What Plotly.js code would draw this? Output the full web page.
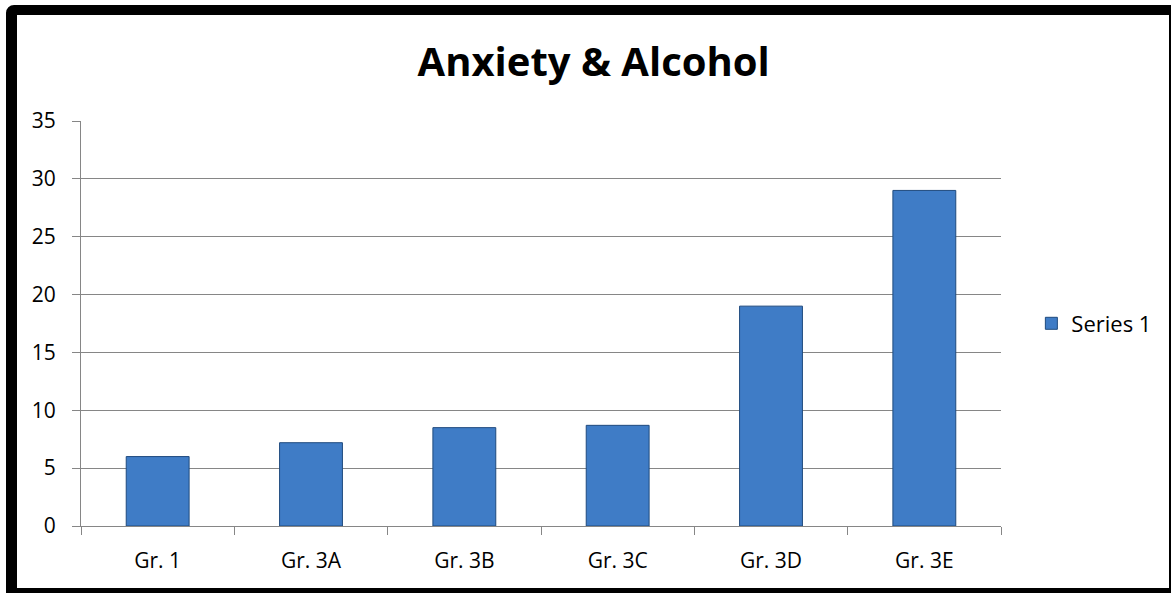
<!DOCTYPE html>
<html>
<head>
<meta charset="utf-8">
<script src="https://cdn.plot.ly/plotly-3.0.1.min.js"></script>
<style>
  html, body { margin: 0; padding: 0; background: #ffffff; }
  #wrap { position: relative; width: 1171px; height: 593px; overflow: hidden; }
  #chart { position: absolute; left: 0; top: 0; width: 1171px; height: 593px; }
  #frame {
    position: absolute; left: 6px; top: 5px; width: 1165px; height: 588px;
    box-sizing: border-box; pointer-events: none;
    border-left: 11px solid #000; border-top: 10px solid #000;
    border-right: 2px solid #000; border-bottom: 5px solid #000;
    border-top-left-radius: 8px;
  }
</style>
</head>
<body>
<div id="wrap">
  <div id="chart"></div>
  <div id="frame"></div>
</div>
<script>
const chartTitle = "Anxiety & Alcohol";
const categories = ["Gr. 1", "Gr. 3A", "Gr. 3B", "Gr. 3C", "Gr. 3D", "Gr. 3E"];
const seriesName = "Series 1";
const seriesValues = [6, 7.2, 8.5, 8.7, 19, 29];
const yTicks = [0, 5, 10, 15, 20, 25, 30, 35];

const font = "Open Sans, Liberation Sans, sans-serif";

const trace = {
  type: "bar",
  name: seriesName,
  x: categories,
  y: seriesValues,
  marker: { color: "#3f7cc6", line: { color: "#1f4a7e", width: 1 } },
  showlegend: true,
  hoverinfo: "x+y"
};

const layout = {
  width: 1171, height: 593,
  margin: { l: 81, r: 170, t: 121, b: 67 },
  paper_bgcolor: "#ffffff", plot_bgcolor: "#ffffff",
  font: { family: font, size: 21, color: "#000000" },
  title: {
    text: "<b>" + chartTitle + "</b>",
    font: { family: font, size: 40, color: "#000000" },
    xref: "container", x: 0.507, xanchor: "center",
    yref: "container", y: 0.895, yanchor: "middle"
  },
  bargap: 0.59,
  xaxis: {
    type: "category",
    showline: true, linecolor: "#868686", linewidth: 1,
    ticks: "outside", tickson: "boundaries", ticklen: 8, tickcolor: "#868686",
    showgrid: false, zeroline: false, ticklabelstandoff: 16,
    tickfont: { family: font, size: 21, color: "#000" }
  },
  yaxis: {
    range: [0, 35],
    tickvals: yTicks, ticktext: yTicks.map(String),
    showline: true, linecolor: "#868686", linewidth: 1,
    ticks: "outside", ticklen: 8, tickcolor: "#868686",
    showgrid: true, gridcolor: "#868686", gridwidth: 1,
    zeroline: false, ticklabelstandoff: 12,
    tickfont: { family: font, size: 21, color: "#000" }
  },
  showlegend: true,
  legend: {
    x: 1.033, xanchor: "left", y: 0.5, yanchor: "middle",
    font: { family: font, size: 22, color: "#000" },
    bgcolor: "rgba(0,0,0,0)", itemwidth: 30
  }
};

Plotly.newPlot("chart", [trace], layout, { displayModeBar: false, staticPlot: true });
</script>
</body>
</html>
